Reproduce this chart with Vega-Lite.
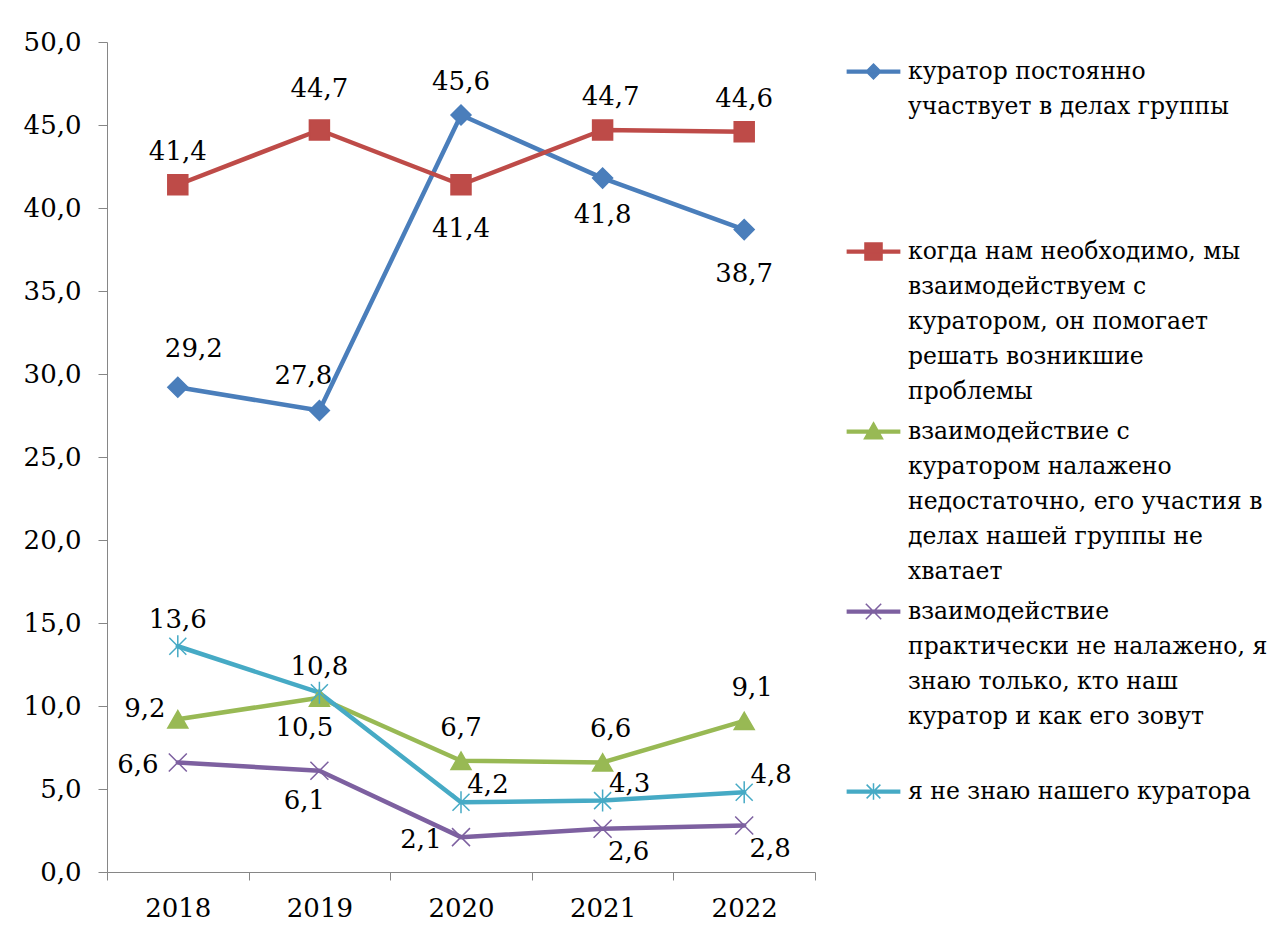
{
  "$schema": "https://vega.github.io/schema/vega-lite/v6.json",
  "width": 708,
  "height": 830,
  "autosize": {"type": "none"},
  "padding": {"left": 107, "top": 42, "right": 465, "bottom": 63},
  "background": "white",
  "params": [
    {"name": "S", "value": [
      "куратор постоянно участвует в делах группы",
      "когда нам необходимо, мы взаимодействуем с куратором, он помогает решать возникшие проблемы",
      "взаимодействие с куратором налажено недостаточно, его участия в делах нашей группы не хватает",
      "взаимодействие практически не налажено, я знаю только, кто наш куратор и как его зовут",
      "я не знаю нашего куратора"
    ]}
  ],
  "config": {
    "view": {"stroke": null},
    "locale": {"number": {"decimal": ",", "thousands": " ", "grouping": [3], "currency": ["", ""]}},
    "text": {"font": "DejaVu Serif", "fontSize": 26, "color": "black"}
  },
  "data": {"values": [
    {"year": "2018", "series": "куратор постоянно участвует в делах группы", "value": 29.2},
    {"year": "2019", "series": "куратор постоянно участвует в делах группы", "value": 27.8},
    {"year": "2020", "series": "куратор постоянно участвует в делах группы", "value": 45.6},
    {"year": "2021", "series": "куратор постоянно участвует в делах группы", "value": 41.8},
    {"year": "2022", "series": "куратор постоянно участвует в делах группы", "value": 38.7},
    {"year": "2018", "series": "когда нам необходимо, мы взаимодействуем с куратором, он помогает решать возникшие проблемы", "value": 41.4},
    {"year": "2019", "series": "когда нам необходимо, мы взаимодействуем с куратором, он помогает решать возникшие проблемы", "value": 44.7},
    {"year": "2020", "series": "когда нам необходимо, мы взаимодействуем с куратором, он помогает решать возникшие проблемы", "value": 41.4},
    {"year": "2021", "series": "когда нам необходимо, мы взаимодействуем с куратором, он помогает решать возникшие проблемы", "value": 44.7},
    {"year": "2022", "series": "когда нам необходимо, мы взаимодействуем с куратором, он помогает решать возникшие проблемы", "value": 44.6},
    {"year": "2018", "series": "взаимодействие с куратором налажено недостаточно, его участия в делах нашей группы не хватает", "value": 9.2},
    {"year": "2019", "series": "взаимодействие с куратором налажено недостаточно, его участия в делах нашей группы не хватает", "value": 10.5},
    {"year": "2020", "series": "взаимодействие с куратором налажено недостаточно, его участия в делах нашей группы не хватает", "value": 6.7},
    {"year": "2021", "series": "взаимодействие с куратором налажено недостаточно, его участия в делах нашей группы не хватает", "value": 6.6},
    {"year": "2022", "series": "взаимодействие с куратором налажено недостаточно, его участия в делах нашей группы не хватает", "value": 9.1},
    {"year": "2018", "series": "взаимодействие практически не налажено, я знаю только, кто наш куратор и как его зовут", "value": 6.6},
    {"year": "2019", "series": "взаимодействие практически не налажено, я знаю только, кто наш куратор и как его зовут", "value": 6.1},
    {"year": "2020", "series": "взаимодействие практически не налажено, я знаю только, кто наш куратор и как его зовут", "value": 2.1},
    {"year": "2021", "series": "взаимодействие практически не налажено, я знаю только, кто наш куратор и как его зовут", "value": 2.6},
    {"year": "2022", "series": "взаимодействие практически не налажено, я знаю только, кто наш куратор и как его зовут", "value": 2.8},
    {"year": "2018", "series": "я не знаю нашего куратора", "value": 13.6},
    {"year": "2019", "series": "я не знаю нашего куратора", "value": 10.8},
    {"year": "2020", "series": "я не знаю нашего куратора", "value": 4.2},
    {"year": "2021", "series": "я не знаю нашего куратора", "value": 4.3},
    {"year": "2022", "series": "я не знаю нашего куратора", "value": 4.8}
  ]},
  "encoding": {
    "x": {
      "field": "year", "type": "ordinal",
      "scale": {"type": "band", "paddingInner": 0, "paddingOuter": 0},
      "axis": {
        "title": null, "labelAngle": 0, "tickBand": "extent",
        "domainColor": "#868686", "tickColor": "#868686", "tickSize": 8, "domainWidth": 1, "tickWidth": 1,
        "labelFont": "DejaVu Serif", "labelFontSize": 26, "labelColor": "black", "labelPadding": 15
      }
    },
    "y": {
      "field": "value", "type": "quantitative",
      "scale": {"domain": [0, 50], "nice": false, "zero": true},
      "axis": {
        "title": null, "grid": false, "values": [0, 5, 10, 15, 20, 25, 30, 35, 40, 45, 50], "format": ".1f",
        "domainColor": "#868686", "tickColor": "#868686", "tickSize": 9, "domainWidth": 1, "tickWidth": 1,
        "labelFont": "DejaVu Serif", "labelFontSize": 26, "labelColor": "black", "labelPadding": 17
      }
    }
  },
  "layer": [
    {
      "mark": {"type": "line", "strokeWidth": 4.5, "strokeJoin": "round", "strokeCap": "round"},
      "encoding": {
        "color": {
          "field": "series", "type": "nominal",
          "scale": {
            "domain": [
              "куратор постоянно участвует в делах группы",
              "когда нам необходимо, мы взаимодействуем с куратором, он помогает решать возникшие проблемы",
              "взаимодействие с куратором налажено недостаточно, его участия в делах нашей группы не хватает",
              "взаимодействие практически не налажено, я знаю только, кто наш куратор и как его зовут",
              "я не знаю нашего куратора"
            ],
            "range": ["#4A7EBB", "#BE4B48", "#98B954", "#7D60A0", "#46AAC5"]
          },
          "legend": {
            "orient": "none", "legendX": 738, "legendY": 1, "title": null, "padding": 0,
            "symbolSize": 3025, "labelOffset": 6, "rowPadding": -9,
            "labelFont": "DejaVu Serif", "labelFontSize": 23.5, "labelColor": "black", "labelLimit": 600,
            "labelBaseline": "top",
            "labelExpr": "[['куратор постоянно','участвует в делах группы','','',''],['когда нам необходимо, мы','взаимодействуем с','куратором, он помогает','решать возникшие','проблемы'],['взаимодействие с','куратором налажено','недостаточно, его участия в','делах нашей группы не','хватает'],['взаимодействие','практически не налажено, я','знаю только, кто наш','куратор и как его зовут',''],['я не знаю нашего куратора','','','','']][indexof(S, datum.value)]",
            "encode": {
              "symbols": {"update": {
                "shape": {"signal": "['M-0.95,-0.05H0.95V0.05H-0.95Z M0,-0.27L0.27,0L0,0.27L-0.27,0Z','M-0.95,-0.05H0.95V0.05H-0.95Z M-0.31,-0.31H0.31V0.31H-0.31Z','M-0.95,-0.05H0.95V0.05H-0.95Z M0,-0.32L0.33,0.26H-0.33Z','M-0.95,-0.05H0.95V0.05H-0.95Z M-0.28,-0.28L0.28,0.28M-0.28,0.28L0.28,-0.28','M-0.95,-0.05H0.95V0.05H-0.95Z M-0.25,-0.25L0.25,0.25M-0.25,0.25L0.25,-0.25M0,-0.3V0.3'][indexof(S, datum.value)]"},
                "fill": {"signal": "scale('color', datum.value)"},
                "stroke": {"signal": "scale('color', datum.value)"},
                "strokeWidth": {"value": 1.5},
                "opacity": {"value": 1}
              }},
              "labels": {"update": {"dy": {"value": -12}, "lineHeight": {"value": 35}}}
            }
          }
        }
      }
    },
    {
      "mark": {"type": "point", "filled": true, "size": 400, "strokeWidth": 1.5, "opacity": 1},
      "encoding": {
        "fill": {
          "field": "series", "type": "nominal", "legend": null,
          "scale": {
            "domain": [
              "я не знаю нашего куратора",
              "взаимодействие практически не налажено, я знаю только, кто наш куратор и как его зовут",
              "взаимодействие с куратором налажено недостаточно, его участия в делах нашей группы не хватает",
              "когда нам необходимо, мы взаимодействуем с куратором, он помогает решать возникшие проблемы",
              "куратор постоянно участвует в делах группы"
            ],
            "range": ["#46AAC5", "#7D60A0", "#98B954", "#BE4B48", "#4A7EBB"]
          }
        },
        "stroke": {
          "field": "series", "type": "nominal", "legend": null,
          "scale": {
            "domain": [
              "я не знаю нашего куратора",
              "взаимодействие практически не налажено, я знаю только, кто наш куратор и как его зовут",
              "взаимодействие с куратором налажено недостаточно, его участия в делах нашей группы не хватает",
              "когда нам необходимо, мы взаимодействуем с куратором, он помогает решать возникшие проблемы",
              "куратор постоянно участвует в делах группы"
            ],
            "range": ["#46AAC5", "#7D60A0", "#98B954", "#BE4B48", "#4A7EBB"]
          }
        },
        "shape": {
          "field": "series", "type": "nominal", "legend": null,
          "scale": {
            "domain": [
              "я не знаю нашего куратора",
              "взаимодействие практически не налажено, я знаю только, кто наш куратор и как его зовут",
              "взаимодействие с куратором налажено недостаточно, его участия в делах нашей группы не хватает",
              "когда нам необходимо, мы взаимодействуем с куратором, он помогает решать возникшие проблемы",
              "куратор постоянно участвует в делах группы"
            ],
            "range": ["M-0.85,-0.85L0.85,0.85M-0.85,0.85L0.85,-0.85M0,-1.1V1.1", "M-0.9,-0.9L0.9,0.9M-0.9,0.9L0.9,-0.9", "triangle-up", "square", "diamond"]
          }
        }
      }
    },
    {
      "transform": [{"filter": "indexof(['0-2020','1-2018','1-2022','2-2020'], indexof(S, datum.series) + '-' + datum.year) >= 0"}],
      "mark": {"type": "text", "dy": -33},
      "encoding": {"text": {"field": "value", "type": "quantitative", "format": ".1f"}}
    },
    {
      "transform": [{"filter": "indexof(['1-2019'], indexof(S, datum.series) + '-' + datum.year) >= 0"}],
      "mark": {"type": "text", "dy": -41},
      "encoding": {"text": {"field": "value", "type": "quantitative", "format": ".1f"}}
    },
    {
      "transform": [{"filter": "indexof(['1-2021','2-2021','2-2022'], indexof(S, datum.series) + '-' + datum.year) >= 0"}],
      "mark": {"type": "text", "dx": 8, "dy": -33},
      "encoding": {"text": {"field": "value", "type": "quantitative", "format": ".1f"}}
    },
    {
      "transform": [{"filter": "indexof(['4-2018','4-2019'], indexof(S, datum.series) + '-' + datum.year) >= 0"}],
      "mark": {"type": "text", "dy": -26},
      "encoding": {"text": {"field": "value", "type": "quantitative", "format": ".1f"}}
    },
    {
      "transform": [{"filter": "indexof(['0-2018'], indexof(S, datum.series) + '-' + datum.year) >= 0"}],
      "mark": {"type": "text", "dx": 16, "dy": -38},
      "encoding": {"text": {"field": "value", "type": "quantitative", "format": ".1f"}}
    },
    {
      "transform": [{"filter": "indexof(['0-2019'], indexof(S, datum.series) + '-' + datum.year) >= 0"}],
      "mark": {"type": "text", "dx": -16, "dy": -35},
      "encoding": {"text": {"field": "value", "type": "quantitative", "format": ".1f"}}
    },
    {
      "transform": [{"filter": "indexof(['0-2021'], indexof(S, datum.series) + '-' + datum.year) >= 0"}],
      "mark": {"type": "text", "dy": 37},
      "encoding": {"text": {"field": "value", "type": "quantitative", "format": ".1f"}}
    },
    {
      "transform": [{"filter": "indexof(['0-2022','1-2020'], indexof(S, datum.series) + '-' + datum.year) >= 0"}],
      "mark": {"type": "text", "dy": 44},
      "encoding": {"text": {"field": "value", "type": "quantitative", "format": ".1f"}}
    },
    {
      "transform": [{"filter": "indexof(['2-2019','3-2019'], indexof(S, datum.series) + '-' + datum.year) >= 0"}],
      "mark": {"type": "text", "dx": -15, "dy": 30},
      "encoding": {"text": {"field": "value", "type": "quantitative", "format": ".1f"}}
    },
    {
      "transform": [{"filter": "indexof(['2-2018'], indexof(S, datum.series) + '-' + datum.year) >= 0"}],
      "mark": {"type": "text", "dx": -33, "dy": -10},
      "encoding": {"text": {"field": "value", "type": "quantitative", "format": ".1f"}}
    },
    {
      "transform": [{"filter": "indexof(['3-2018','3-2020'], indexof(S, datum.series) + '-' + datum.year) >= 0"}],
      "mark": {"type": "text", "dx": -40, "dy": 3},
      "encoding": {"text": {"field": "value", "type": "quantitative", "format": ".1f"}}
    },
    {
      "transform": [{"filter": "indexof(['3-2021','3-2022'], indexof(S, datum.series) + '-' + datum.year) >= 0"}],
      "mark": {"type": "text", "dx": 26, "dy": 23},
      "encoding": {"text": {"field": "value", "type": "quantitative", "format": ".1f"}}
    },
    {
      "transform": [{"filter": "indexof(['4-2020','4-2021','4-2022'], indexof(S, datum.series) + '-' + datum.year) >= 0"}],
      "mark": {"type": "text", "dx": 27, "dy": -17},
      "encoding": {"text": {"field": "value", "type": "quantitative", "format": ".1f"}}
    }
  ]
}
